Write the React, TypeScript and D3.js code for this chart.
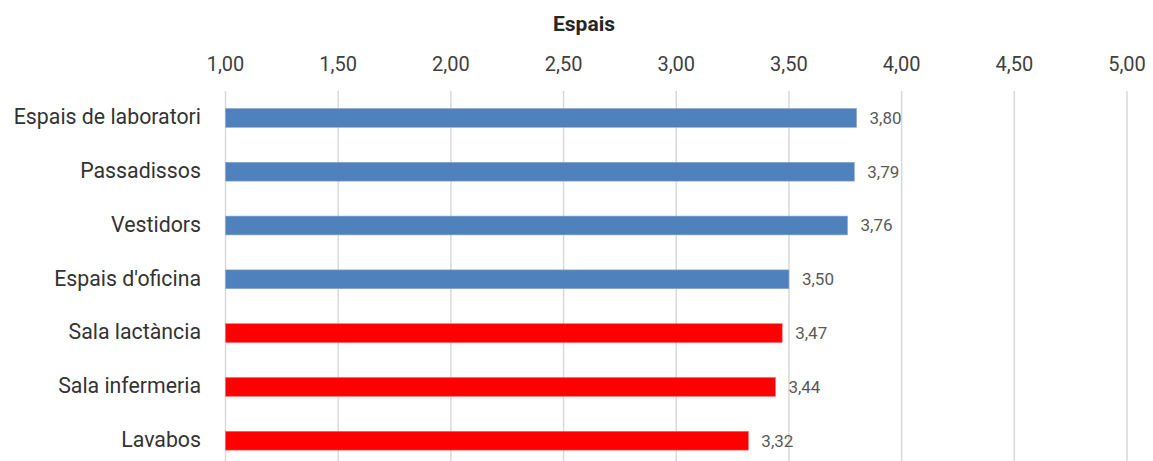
import React from "react";
import * as d3 from "d3";

const categories = [
  "Espais de laboratori",
  "Passadissos",
  "Vestidors",
  "Espais d'oficina",
  "Sala lactància",
  "Sala infermeria",
  "Lavabos",
];
const values = [3.8, 3.79, 3.76, 3.5, 3.47, 3.44, 3.32];
const highlight = [false, false, false, false, true, true, true];
const tickValues = [1, 1.5, 2, 2.5, 3, 3.5, 4, 4.5, 5];
const title = "Espais";

const W = 1153;
const H = 461;
const fmt = (v: number) => v.toFixed(2).replace(".", ",");

export default function App() {
  const x = d3.scaleLinear().domain([1, 5]).range([225.5, 1127]);
  const y = d3
    .scaleBand<string>()
    .domain(categories)
    .range([91, 467.6])
    .paddingInner(0.65)
    .paddingOuter(0.325);
  const font = "Roboto, 'Liberation Sans', Arial, sans-serif";
  return (
    <svg
      width={W}
      height={H}
      style={{ position: "absolute", left: 0, top: 0, display: "block", background: "#fff" }}
      fontFamily={font}
    >
      <text x={584} y={31} textAnchor="middle" fontWeight="bold" fontSize={21} fill="#262626">
        {title}
      </text>
      {tickValues.map((t) => (
        <g key={t}>
          <line x1={x(t)} x2={x(t)} y1={91} y2={H} stroke="#d9d9d9" strokeWidth={1.5} />
          <text x={x(t)} y={71} textAnchor="middle" fontSize={20} fill="#404040">
            {fmt(t)}
          </text>
        </g>
      ))}
      {categories.map((c, i) => {
        const yy = y(c)!;
        const bw = y.bandwidth();
        return (
          <g key={c}>
            <text x={201} y={yy + bw / 2} dy="0.3em" textAnchor="end" fontSize={21.3} fill="#333333">
              {c}
            </text>
            <rect
              x={x(1)}
              y={yy}
              width={x(values[i]) - x(1)}
              height={bw}
              fill={highlight[i] ? "#FF0000" : "#4F81BD"}
              stroke={highlight[i] ? "#ff6a6a" : "#8aa9d4"}
              strokeWidth={0.6}
            />
            <text
              x={x(values[i]) + 13}
              y={yy + bw / 2}
              dy="0.35em"
              fontSize={17}
              fill="#595959"
            >
              {fmt(values[i])}
            </text>
          </g>
        );
      })}
    </svg>
  );
}
